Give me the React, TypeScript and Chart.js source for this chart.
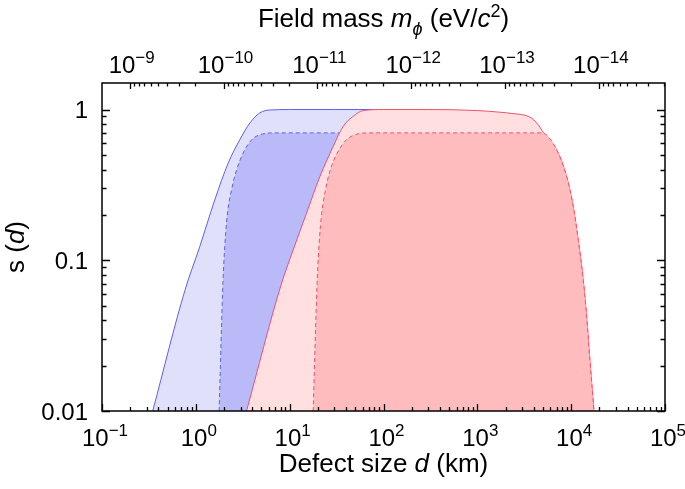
import React, { useEffect, useRef } from "react";
import { Chart, registerables } from "chart.js";

Chart.register(...registerables);

// ---- Data (defect size d in km, sensitivity s(d)) ----
const blueOuterD = [0.347, 0.764, 1.1, 1.59, 2.21, 2.94, 3.77, 4.81, 6.15, 10, 30, 100];
const blueOuterS = [0.01, 0.063, 0.123, 0.251, 0.441, 0.63, 0.815, 0.95, 0.993, 1.0, 1.0, 1.0];

const blueInnerD = [1.77, 1.95, 2.12, 2.4, 2.72, 3.19, 3.93, 4.81, 6.67, 30, 100];
const blueInnerS = [0.01, 0.0736, 0.176, 0.293, 0.398, 0.514, 0.63, 0.68, 0.7, 0.7, 0.7];

const redOuterD = [3.47, 8.06, 10.9, 15.1, 21.0, 29.1, 37.2, 47.5, 60.8, 100, 300, 1000, 1742, 2400, 3640, 4400, 5040, 7000, 8950, 10520, 11900, 13460, 14630, 15860, 17500];
const redOuterS = [0.01, 0.068, 0.117, 0.205, 0.359, 0.569, 0.774, 0.902, 0.985, 1.0, 1.0, 0.985, 0.96, 0.94, 0.89, 0.8, 0.705, 0.541, 0.359, 0.227, 0.136, 0.0736, 0.042, 0.0215, 0.01];

const redInnerD = [17.8, 19.6, 21.3, 24.0, 27.2, 31.9, 39.3, 48, 66, 1000, 4800, 5040, 7000, 8950, 10520, 11900, 13460, 14630, 15860, 17500];
const redInnerS = [0.01, 0.07, 0.17, 0.29, 0.4, 0.51, 0.62, 0.675, 0.7, 0.7, 0.7, 0.698, 0.541, 0.359, 0.227, 0.136, 0.0736, 0.042, 0.0215, 0.01];

// ---- Axis ticks / labels ----
const dTickExponents = [-1, 0, 1, 2, 3, 4, 5];
const massTickExponents = [-9, -10, -11, -12, -13, -14];
const sTickValues = [1, 0.1, 0.01];
const sTickLabels = ["1", "0.1", "0.01"];
const HBAR_C_EV_KM = 1.973e-10; // d = ħc / (m c²)

const FONT = '"Liberation Sans", Arial, Helvetica, sans-serif';

type Run = { t: string; size: number; italic?: boolean; dy?: number };

function drawRuns(ctx: CanvasRenderingContext2D, runs: Run[], x: number, baseline: number, align: "left" | "center" | "right") {
  let total = 0;
  const widths = runs.map((r) => {
    ctx.font = `${r.italic ? "italic " : ""}${r.size}px ${FONT}`;
    const w = ctx.measureText(r.t).width;
    total += w;
    return w;
  });
  let cx = align === "center" ? x - total / 2 : align === "right" ? x - total : x;
  runs.forEach((r, i) => {
    ctx.font = `${r.italic ? "italic " : ""}${r.size}px ${FONT}`;
    ctx.fillText(r.t, cx, baseline + (r.dy || 0));
    cx += widths[i];
  });
}

function powerRuns(exp: number): Run[] {
  return [
    { t: "10", size: 24 },
    { t: exp < 0 ? "\u2212" + String(-exp) : String(exp), size: 17, dy: -10 },
  ];
}

const framePlugin = {
  id: "frame",
  afterDraw(chart: any) {
    const { ctx, chartArea } = chart;
    const { left, right, top, bottom } = chartArea;
    const xs = chart.scales.x;
    const ys = chart.scales.y;
    ctx.save();
    ctx.strokeStyle = "#000";
    ctx.fillStyle = "#000";
    ctx.lineWidth = 1.3;
    ctx.textAlign = "left";
    ctx.textBaseline = "alphabetic";

    // bottom ticks (defect size)
    ctx.beginPath();
    for (let e = -1; e <= 5; e++) {
      for (let k = 1; k <= 9; k++) {
        const v = k * Math.pow(10, e);
        if (v > 1e5 * 1.0001) continue;
        const px = Math.round(xs.getPixelForValue(v)) + 0.5;
        const len = k === 1 ? 7 : 4;
        ctx.moveTo(px, bottom);
        ctx.lineTo(px, bottom - len);
      }
    }
    // top ticks (field mass)
    for (let e = -15; e <= -9; e++) {
      for (let k = 1; k <= 9; k++) {
        const m = k * Math.pow(10, e);
        const d = HBAR_C_EV_KM / m;
        if (d < 0.1 || d > 1e5) continue;
        const px = Math.round(xs.getPixelForValue(d)) + 0.5;
        const len = k === 1 ? 6 : 3.5;
        ctx.moveTo(px, top);
        ctx.lineTo(px, top + len);
      }
    }
    // left & right ticks (s)
    for (let e = -2; e <= 0; e++) {
      for (let k = 1; k <= 9; k++) {
        const v = k * Math.pow(10, e);
        if (v > 1.0001) continue;
        const py = Math.round(ys.getPixelForValue(v)) + 0.5;
        const len = k === 1 ? 8 : 4.5;
        ctx.moveTo(left, py);
        ctx.lineTo(left + len, py);
        ctx.moveTo(right, py);
        ctx.lineTo(right - len, py);
      }
    }
    ctx.stroke();

    // frame
    ctx.lineWidth = 1.5;
    ctx.strokeRect(left, top, right - left, bottom - top);

    // bottom labels
    dTickExponents.forEach((e) => {
      const px = xs.getPixelForValue(Math.pow(10, e));
      drawRuns(ctx, powerRuns(e), px + 3, 446, "center");
    });
    // top labels
    massTickExponents.forEach((e) => {
      const px = xs.getPixelForValue(HBAR_C_EV_KM / Math.pow(10, e));
      drawRuns(ctx, powerRuns(e), px + 2, 73, "center");
    });
    // left labels
    sTickValues.forEach((v, i) => {
      const py = ys.getPixelForValue(v);
      drawRuns(ctx, [{ t: sTickLabels[i], size: 24 }], 88, py + 8.5, "right");
    });

    const cx = (left + right) / 2;
    // bottom title
    drawRuns(
      ctx,
      [
        { t: "Defect size ", size: 26 },
        { t: "d", size: 26, italic: true },
        { t: " (km)", size: 26 },
      ],
      cx,
      472,
      "center"
    );
    // top title
    drawRuns(
      ctx,
      [
        { t: "Field mass ", size: 26 },
        { t: "m", size: 26, italic: true },
        { t: "\u03D5", size: 18, italic: true, dy: 8 },
        { t: " (eV/", size: 26 },
        { t: "c", size: 26, italic: true },
        { t: "2", size: 18, dy: -10 },
        { t: ")", size: 26 },
      ],
      cx,
      27,
      "center"
    );
    // y title
    ctx.save();
    ctx.translate(24, 247);
    ctx.rotate(-Math.PI / 2);
    drawRuns(
      ctx,
      [
        { t: "s", size: 26 },
        { t: " (", size: 26 },
        { t: "d", size: 26, italic: true },
        { t: ")", size: 26 },
      ],
      0,
      0,
      "center"
    );
    ctx.restore();
    ctx.restore();
  },
};

function pts(xsArr: number[], ysArr: number[]) {
  return xsArr.map((x, i) => ({ x, y: ysArr[i] }));
}

export default function App() {
  const ref = useRef<HTMLCanvasElement | null>(null);

  useEffect(() => {
    document.body.style.margin = "0";
    const canvas = ref.current;
    if (!canvas) return;
    const blueLine = "rgb(96, 96, 230)";
    const redLine = "rgb(232, 84, 104)";
    const chart = new Chart(canvas, {
      type: "line",
      data: {
        datasets: [
          {
            data: pts(blueOuterD, blueOuterS),
            borderColor: blueLine,
            backgroundColor: "rgb(224, 224, 251)",
            borderWidth: 1,
            fill: "start",
            order: 4,
          },
          {
            data: pts(blueInnerD, blueInnerS),
            borderColor: blueLine,
            backgroundColor: "rgb(186, 186, 249)",
            borderWidth: 1,
            borderDash: [4, 3],
            fill: "start",
            order: 3,
          },
          {
            data: pts(redOuterD, redOuterS),
            borderColor: redLine,
            backgroundColor: "rgb(255, 223, 224)",
            borderWidth: 1,
            fill: "start",
            order: 2,
          },
          {
            data: pts(redInnerD, redInnerS),
            borderColor: redLine,
            backgroundColor: "rgb(255, 188, 191)",
            borderWidth: 1,
            borderDash: [4, 3],
            fill: "start",
            order: 1,
          },
        ],
      },
      options: {
        responsive: false,
        animation: false,
        devicePixelRatio: 1,
        layout: { padding: { left: 102, right: 20, top: 83, bottom: 78 } },
        plugins: { legend: { display: false }, tooltip: { enabled: false } },
        elements: {
          point: { radius: 0 },
          line: { cubicInterpolationMode: "monotone" },
        },
        scales: {
          x: { type: "logarithmic", min: 0.1, max: 1e5, display: false },
          y: { type: "logarithmic", min: 0.01, max: 1.5, display: false },
        },
      },
      plugins: [framePlugin],
    } as any);
    return () => chart.destroy();
  }, []);

  return (
    <div style={{ position: "absolute", left: 0, top: 0, width: 685, height: 489, background: "#fff" }}>
      <canvas ref={ref} width={685} height={489} style={{ display: "block" }} />
    </div>
  );
}
